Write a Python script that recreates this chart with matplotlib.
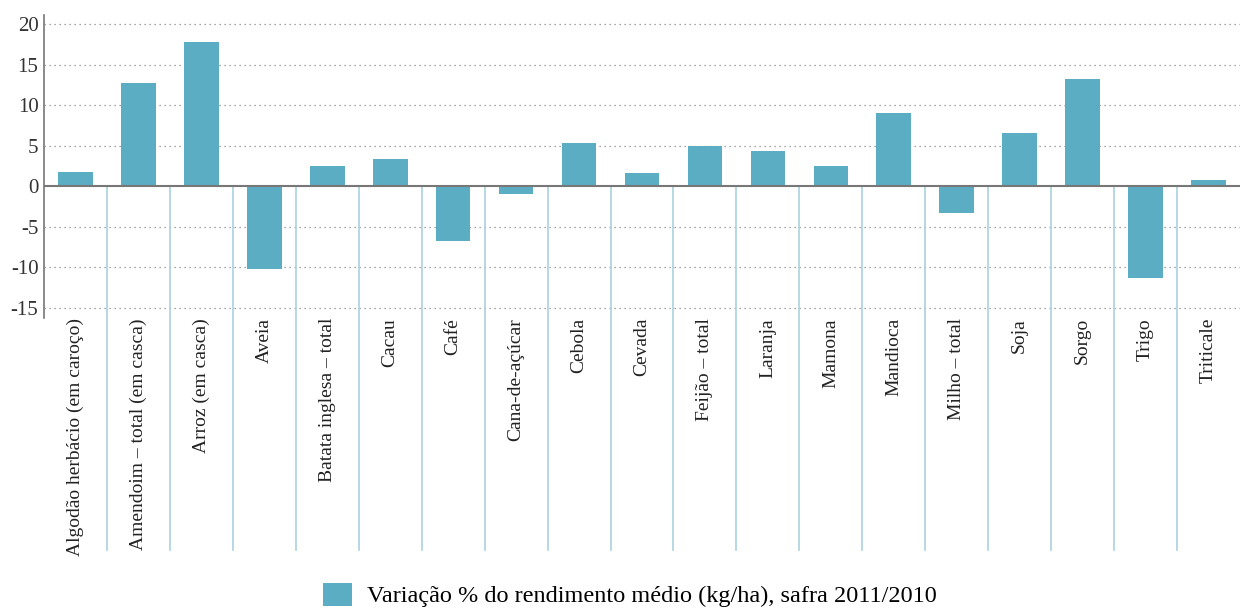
import matplotlib
matplotlib.use("Agg")
import matplotlib.pyplot as plt
from matplotlib.patches import Patch

categories = ["Algodão herbácio (em caroço)", "Amendoim – total (em casca)", "Arroz (em casca)",
              "Aveia", "Batata inglesa – total", "Cacau", "Café", "Cana-de-açúcar", "Cebola",
              "Cevada", "Feijão – total", "Laranja", "Mamona", "Mandioca", "Milho – total",
              "Soja", "Sorgo", "Trigo", "Triticale"]
values = [1.8, 12.8, 17.8, -10.2, 2.5, 3.4, -6.7, -0.9, 5.4, 1.7, 5.0, 4.4, 2.5, 9.1,
          -3.3, 6.6, 13.3, -11.3, 0.8]
yticks = [-15, -10, -5, 0, 5, 10, 15, 20]
legend_label = "Variação % do rendimento médio (kg/ha), safra 2011/2010"

plt.rcParams['font.family'] = ['Liberation Serif', 'DejaVu Serif']
bar_color = "#5aadc3"
sep_color = "#a8d2de"

fig = plt.figure(figsize=(12.4, 6.08), dpi=100)
ax = fig.add_axes([44/1240, 1-318/608, 1-44/1240, (318-15)/608])
x = list(range(len(categories)))
ax.bar(x, values, width=0.55, color=bar_color, zorder=2)
ax.set_xlim(-0.5, len(categories) - 0.5)
ax.set_ylim(-16.24, 21.17)
ax.set_yticks(yticks)
ax.set_yticklabels([str(t) for t in yticks], fontsize=15, color="#333333")
for t in yticks:
    if t != 0:
        ax.axhline(t, color="#888888", linestyle=(0, (1, 3)), linewidth=0.9, zorder=1)
ax.axhline(0, color="#777777", linewidth=1.5, zorder=3)

# separators
for k in range(1, len(categories)):
    ax.plot([k - 0.5, k - 0.5], [0, -44.9], color=sep_color, linewidth=1.2,
            clip_on=False, zorder=1)

ax.set_xticks(x)
ax.set_xticklabels(categories, rotation=90, fontsize=14, color="#222222", va="top")
ax.tick_params(axis="x", length=0, pad=0)
ax.tick_params(axis="y", length=0, pad=4)
for s in ["top", "right", "bottom"]:
    ax.spines[s].set_visible(False)
ax.spines["left"].set_color("#777777")
ax.spines["left"].set_linewidth(1.2)

handle = Patch(facecolor=bar_color, edgecolor="none")
fig.legend([handle], [legend_label], loc="center", bbox_to_anchor=(630/1240, 1-595/608),
           frameon=False, fontsize=17.5, handlelength=1.2, handleheight=1.1, handletextpad=0.6)

fig.savefig("out.png", dpi=100)
